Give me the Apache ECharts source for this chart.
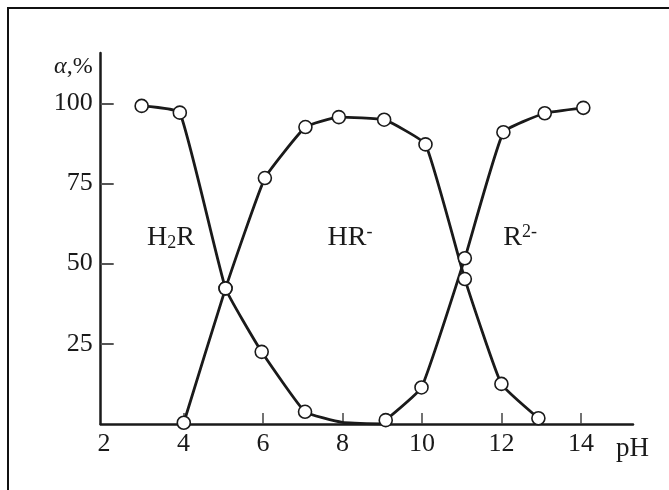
<!DOCTYPE html>
<html>
<head>
<meta charset="utf-8">
<script src="https://cdn.jsdelivr.net/npm/echarts@6/dist/echarts.min.js"></script>
<style>
  html, body { margin: 0; padding: 0; background: #fff; }
  #chart { width: 669px; height: 490px; }
</style>
</head>
<body>
<div id="chart"></div>
<script>
// values (pH, alpha %)
const h2rPh  = [2.95, 3.91, 5.06, 5.97, 7.06, 8.0, 9.0];
const h2rVal = [99.2, 97.1, 42.3, 22.5, 3.8, 0.5, 0.0];
const h2rMarked = 5; // last two points are only the tail of the curve

const hrPh  = [4.01, 5.06, 6.05, 7.07, 7.91, 9.05, 10.09, 11.08, 12.0, 12.93];
const hrVal = [0.4, 42.3, 76.7, 92.6, 95.7, 94.9, 87.2, 45.2, 12.5, 1.8];

const r2Ph  = [9.09, 9.99, 11.08, 12.05, 13.09, 14.06];
const r2Val = [1.2, 11.4, 51.7, 91.0, 96.9, 98.6];

const xTicks = [2, 4, 6, 8, 10, 12, 14];
const yTicks = [25, 50, 75, 100];

// species labels: [pH, alpha, rich text]
const speciesLabels = [
  [3.69, 58, 'H{sub|2}R'],
  [8.19, 58, 'HR{sup|-}'],
  [12.47, 58, 'R{sup|2-}']
];

const FONT = 'Liberation Serif';
const INK = '#1a1a1a';

const pairs = (xs, ys, marked) => xs.map((x, i) => {
  const item = { value: [x, ys[i]] };
  if (marked !== undefined && i >= marked) item.symbol = 'none';
  return item;
});

const curve = (name, data) => ({
  name: name,
  type: 'line',
  data: data,
  smooth: 0.12,
  symbol: 'circle',
  symbolSize: 13,
  showAllSymbol: true,
  lineStyle: { color: INK, width: 2.8 },
  itemStyle: { color: '#fff', borderColor: INK, borderWidth: 1.6 },
  z: 3
});

const chart = echarts.init(document.getElementById('chart'));

chart.setOption({
  backgroundColor: '#fff',
  animation: false,
  textStyle: { fontFamily: FONT },
  grid: { left: 100.7, right: 36, top: 53, bottom: 66 },
  xAxis: {
    type: 'value',
    min: 1.92,
    max: 15.31,
    name: 'pH',
    nameLocation: 'end',
    nameGap: -17,
    nameTextStyle: {
      fontFamily: FONT, fontSize: 27, color: INK,
      align: 'left', verticalAlign: 'top', padding: [11, 0, 0, 0]
    },
    axisLine: { lineStyle: { color: INK, width: 2.5 } },
    axisTick: {
      inside: true, length: 11,
      customValues: xTicks.slice(1),
      lineStyle: { color: '#444', width: 1.5 }
    },
    axisLabel: {
      customValues: xTicks,
      margin: 7,
      fontFamily: FONT, fontSize: 26, color: INK
    },
    splitLine: { show: false }
  },
  yAxis: {
    type: 'value',
    min: 0,
    max: 115.7,
    name: '{a|α},%',
    nameLocation: 'end',
    nameGap: -26,
    nameTextStyle: {
      fontFamily: FONT, fontSize: 24, color: INK,
      align: 'right', verticalAlign: 'bottom', padding: [0, 8, 0, 0],
      rich: { a: { fontFamily: FONT, fontStyle: 'italic', fontSize: 24, color: INK } }
    },
    axisLine: { show: true, lineStyle: { color: INK, width: 2.5 } },
    axisTick: {
      show: true, inside: true, length: 13,
      customValues: yTicks,
      lineStyle: { color: '#555', width: 2 }
    },
    axisLabel: {
      customValues: yTicks,
      margin: 8,
      fontFamily: FONT, fontSize: 26, color: INK
    },
    splitLine: { show: false }
  },
  series: [
    curve('H2R', pairs(h2rPh, h2rVal, h2rMarked)),
    curve('HR-', pairs(hrPh, hrVal)),
    curve('R2-', pairs(r2Ph, r2Val)),
    {
      type: 'scatter',
      symbolSize: 0,
      silent: true,
      itemStyle: { opacity: 1 },
      data: speciesLabels.map(l => ({ value: [l[0], l[1]], label: { formatter: l[2] } })),
      label: {
        show: true,
        position: 'inside',
        opacity: 1,
        fontFamily: FONT,
        fontSize: 28,
        color: INK,
        rich: {
          sub: { fontFamily: FONT, fontSize: 18, color: INK, padding: [10, 0, 0, 0] },
          sup: { fontFamily: FONT, fontSize: 18, color: INK, padding: [0, 0, 11, 0] }
        }
      },
      z: 4
    }
  ],
  graphic: [
    // cropped frame of the original figure: top and left edges only
    { type: 'line', shape: { x1: 7, y1: 8, x2: 669, y2: 8 }, style: { stroke: '#111', lineWidth: 2 } },
    { type: 'line', shape: { x1: 8, y1: 8, x2: 8, y2: 490 }, style: { stroke: '#111', lineWidth: 2 } }
  ]
});
</script>
</body>
</html>
